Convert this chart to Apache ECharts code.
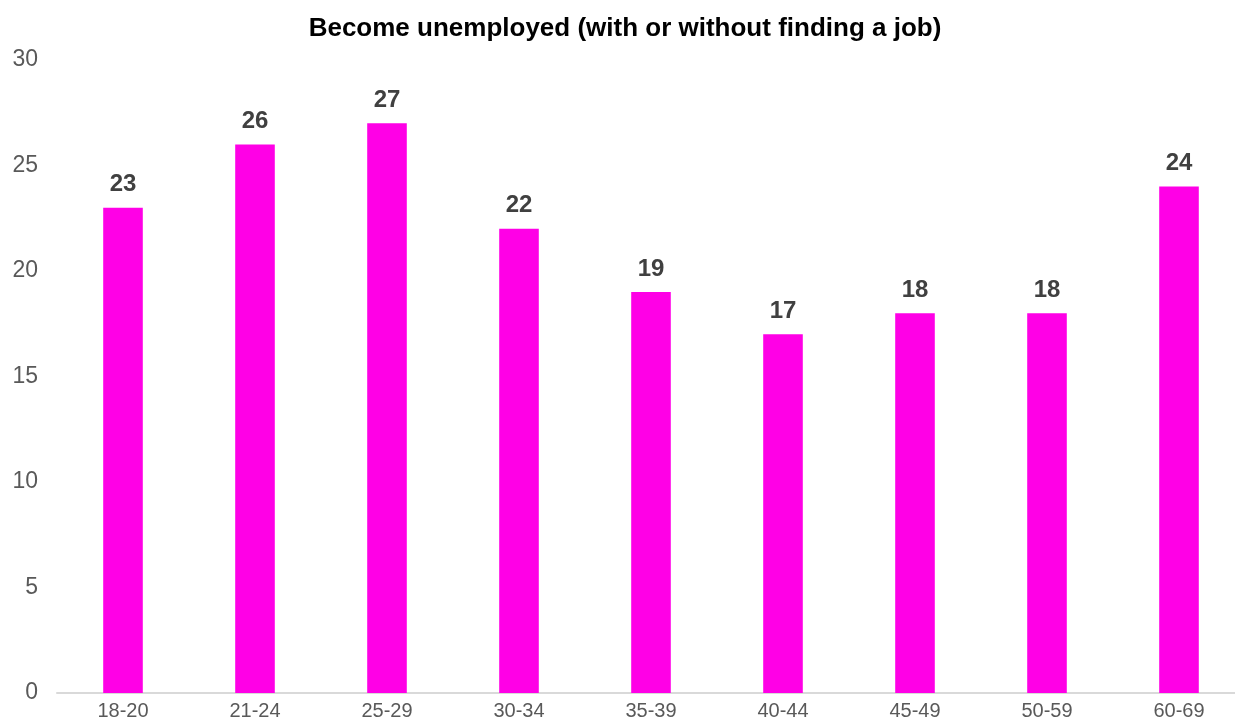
<!DOCTYPE html>
<html>
<head>
<meta charset="utf-8">
<script src="https://cdn.jsdelivr.net/npm/echarts@6/dist/echarts.min.js"></script>
<style>
  html, body { margin: 0; padding: 0; background: #fff; }
  #main { width: 1235px; height: 725px; }
</style>
</head>
<body>
<div id="main"></div>
<script>
// age groups and share (%) who became unemployed
var ageGroups = ['18-20', '21-24', '25-29', '30-34', '35-39', '40-44', '45-49', '50-59', '60-69'];
var unemployed = [23, 26, 27, 22, 19, 17, 18, 18, 24];

var myChart = echarts.init(document.getElementById('main'));
myChart.setOption({
  animation: false,
  textStyle: { fontFamily: 'Liberation Sans, Arial, sans-serif' },
  title: {
    text: 'Become unemployed (with or without finding a job)',
    left: 620,
    textAlign: 'center',
    top: 11,
    textStyle: { fontSize: 26, fontWeight: 'bold', color: '#000' }
  },
  grid: {
    left: 57,
    width: 1188, // last category is cut a little by the right edge
    top: 60,
    bottom: 32,
    containLabel: false,
    outerBoundsMode: 'none'
  },
  xAxis: {
    type: 'category',
    data: ageGroups,
    axisLine: { lineStyle: { color: '#d9d9d9', width: 2 } },
    axisTick: { show: false },
    axisLabel: { color: '#595959', fontSize: 20, margin: 8 }
  },
  yAxis: {
    type: 'value',
    min: 0,
    max: 30,
    interval: 5,
    splitLine: { show: false },
    axisLine: { show: false },
    axisTick: { show: false },
    axisLabel: { color: '#595959', fontSize: 23, margin: 19 }
  },
  series: [{
    type: 'bar',
    data: unemployed,
    barWidth: '30%',
    itemStyle: { color: '#ff00e6' },
    label: {
      show: true,
      position: 'top',
      distance: 11,
      fontSize: 24,
      fontWeight: 'bold',
      color: '#404040'
    }
  }]
});
</script>
</body>
</html>
